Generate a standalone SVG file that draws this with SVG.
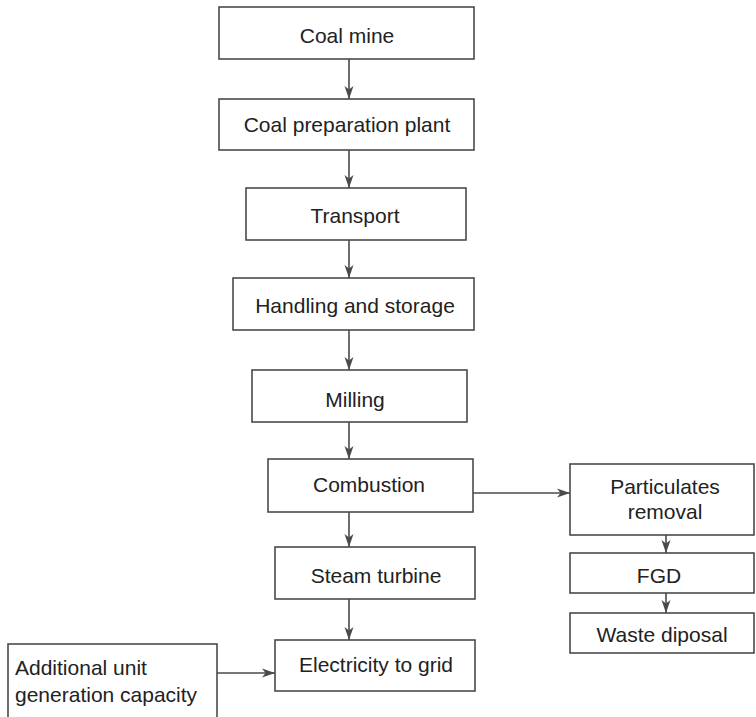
<svg xmlns="http://www.w3.org/2000/svg" width="756" height="717" viewBox="0 0 756 717">
<style>
.box{fill:#fff;stroke:#4a4a4a;stroke-width:1.6}
.t{font-family:"Liberation Sans",Arial,sans-serif;font-size:21px;fill:#222;text-anchor:middle}
.tl{font-family:"Liberation Sans",Arial,sans-serif;font-size:21px;fill:#222}
.c{stroke:#4a4a4a;stroke-width:1.6;fill:none;marker-end:url(#ah)}
</style>
<defs>
<marker id="ah" markerUnits="userSpaceOnUse" markerWidth="14" markerHeight="10" refX="13" refY="5" orient="auto">
<path d="M0,0.5 L13,5 L0,9.5 L3.5,5 Z" fill="#4a4a4a"/>
</marker>
</defs>
<rect width="756" height="717" fill="#fff"/>
<g id="connectors">
<line class="c" x1="349" y1="59" x2="349" y2="99"/>
<line class="c" x1="349" y1="150" x2="349" y2="188"/>
<line class="c" x1="349" y1="240" x2="349" y2="278"/>
<line class="c" x1="349" y1="330" x2="349" y2="370"/>
<line class="c" x1="349" y1="422" x2="349" y2="459"/>
<line class="c" x1="349" y1="512" x2="349" y2="547"/>
<line class="c" x1="349" y1="599" x2="349" y2="640"/>
<line class="c" x1="473" y1="493" x2="570" y2="493"/>
<line class="c" x1="666" y1="535" x2="666" y2="553"/>
<line class="c" x1="666" y1="593" x2="666" y2="613"/>
<line class="c" x1="217" y1="673" x2="275" y2="673"/>
</g>
<g id="coal-mine"><rect class="box" x="219" y="7" width="255" height="52"/><text class="t" x="347" y="43">Coal mine</text></g>
<g id="coal-prep"><rect class="box" x="219" y="99" width="255" height="51"/><text class="t" x="347" y="132">Coal preparation plant</text></g>
<g id="transport"><rect class="box" x="246" y="188" width="220" height="52"/><text class="t" x="355" y="223">Transport</text></g>
<g id="handling"><rect class="box" x="233" y="278" width="241" height="52"/><text class="t" x="355" y="313">Handling and storage</text></g>
<g id="milling"><rect class="box" x="252" y="370" width="215" height="52"/><text class="t" x="355" y="407">Milling</text></g>
<g id="combustion"><rect class="box" x="268" y="459" width="205" height="53"/><text class="t" x="369" y="492">Combustion</text></g>
<g id="particulates"><rect class="box" x="570" y="464" width="184" height="71"/><text class="t" x="665" y="494">Particulates</text><text class="t" x="665" y="519">removal</text></g>
<g id="fgd"><rect class="box" x="570" y="553" width="184" height="40"/><text class="t" x="659" y="583">FGD</text></g>
<g id="waste"><rect class="box" x="570" y="613" width="184" height="40"/><text class="t" x="662" y="642">Waste diposal</text></g>
<g id="steam-turbine"><rect class="box" x="275" y="547" width="200" height="52"/><text class="t" x="376" y="583">Steam turbine</text></g>
<g id="electricity"><rect class="box" x="275" y="640" width="200" height="51"/><text class="t" x="376" y="672">Electricity to grid</text></g>
<g id="additional"><rect class="box" x="8" y="644" width="209" height="80"/><text class="tl" x="15" y="675">Additional unit</text><text class="tl" x="15" y="702">generation capacity</text></g>
</svg>
